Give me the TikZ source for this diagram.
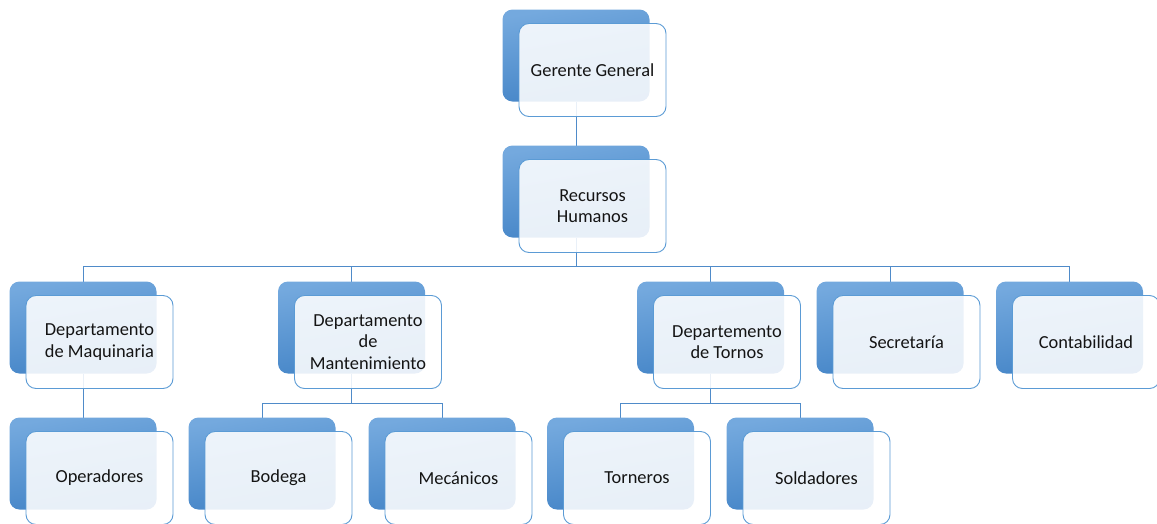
\documentclass[tikz,border=0pt]{standalone}
\usepackage{fontspec}
\setmainfont{Carlito}
\pgfdeclarelayer{background}
\pgfsetlayers{background,main}
\definecolor{bluetop}{RGB}{116,169,222}
\definecolor{bluebot}{RGB}{66,131,198}
\definecolor{edgeblue}{RGB}{91,155,213}
\definecolor{lineblue}{RGB}{79,139,201}
\definecolor{txt}{RGB}{20,20,20}
\tikzset{
  backbox/.style={rounded corners=10pt, minimum width=147pt, minimum height=92pt,
    inner sep=0pt, outer sep=0pt, top color=bluetop, bottom color=bluebot, shading angle=10},
  frontbox/.style={rounded corners=10pt, minimum width=147pt, minimum height=93pt,
    inner sep=2pt, outer sep=0pt, fill=white, fill opacity=0.88, text opacity=1,
    draw=edgeblue, line width=0.9pt, align=center,
    font=\fontsize{18.4}{21.5}\selectfont, text=txt},
  conn/.style={draw=lineblue, line width=0.9pt}
}
\newcommand\orgunit[4]{%
  \node[backbox] (#1) at (#2,#3) {};
  \node[frontbox] (#1-f) at ([shift={(16.5,14.5)}]#1.center) {#4};}
\begin{document}
\begin{tikzpicture}[x=1pt,y=-1pt]
  \useasboundingbox (0,0) rectangle (1157,523);
  \clip (0,0) rectangle (1157,523);
  \orgunit{gg}{576}{55.5}{Gerente General}
  \orgunit{rh}{576}{191.5}{Recursos\\Humanos}
  \orgunit{dmaq}{83}{327.5}{Departamento\\de Maquinaria}
  \orgunit{dman}{351.5}{327.5}{Departamento\\de\\Mantenimiento}
  \orgunit{dtor}{710.5}{327.5}{Departemento\\de Tornos}
  \orgunit{sec}{890}{327.5}{Secretaría}
  \orgunit{cont}{1069.5}{327.5}{Contabilidad}
  \orgunit{oper}{83}{463.5}{Operadores}
  \orgunit{bod}{262}{463.5}{Bodega}
  \orgunit{mec}{442}{463.5}{Mecánicos}
  \orgunit{torn}{620.5}{463.5}{Torneros}
  \orgunit{sold}{800}{463.5}{Soldadores}
  \coordinate (busA) at (576,266);
  \coordinate (busB) at (351.5,403.5);
  \coordinate (busC) at (710.5,403.5);
  \begin{pgfonlayer}{background}
    \draw[conn] (gg.south) -- (rh.north);
    \draw[conn] (rh.south) -- (busA);
    \foreach \c in {dmaq,dman,dtor,sec,cont} \draw[conn] (\c.north) |- (busA);
    \draw[conn] (dmaq.south) -- (oper.north);
    \draw[conn] (dman.south) -- (busB);
    \foreach \c in {bod,mec} \draw[conn] (\c.north) |- (busB);
    \draw[conn] (dtor.south) -- (busC);
    \foreach \c in {torn,sold} \draw[conn] (\c.north) |- (busC);
  \end{pgfonlayer}
\end{tikzpicture}
\end{document}
